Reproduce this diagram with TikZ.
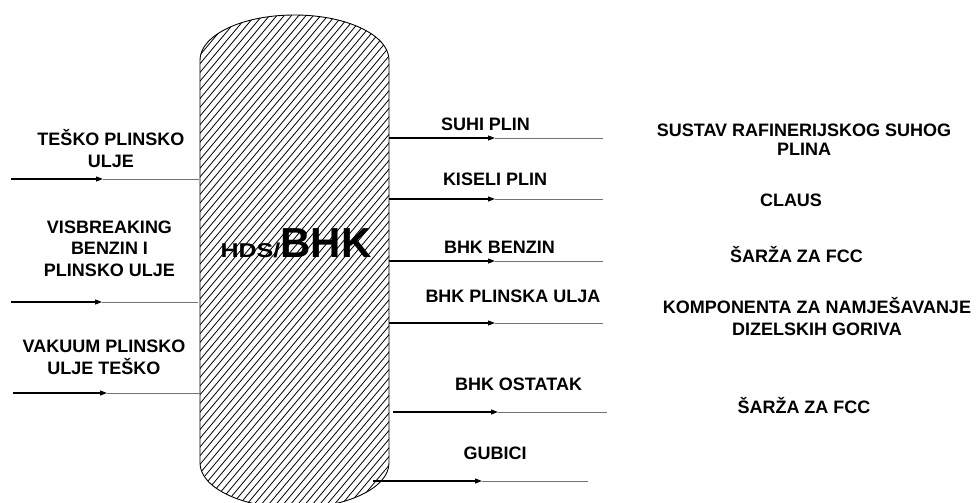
\documentclass[tikz,border=0pt]{standalone}
\usepackage{fontspec}
\setmainfont{Liberation Sans}
\usetikzlibrary{arrows.meta}
\begin{document}
\begin{tikzpicture}[x=1pt,y=-1pt,
  lbl/.style={font=\bfseries\fontsize{18}{21.5}\selectfont, align=center, anchor=base, inner sep=0pt},
  feed/.style={line width=1.1pt, black, -{Triangle[length=7pt,width=5pt]}},
  tail/.style={line width=0.9pt, black!55},
  hatch/.style={line width=0.8pt, black},
  outline/.style={line width=0.9pt, black},
  ]
\useasboundingbox (0,0) rectangle (980,503);
% vessel
\def\vesselpath{(200,463) -- (200,60) arc[start angle=180, end angle=360, x radius=94.5, y radius=45] -- (389,463) arc[start angle=0, end angle=180, x radius=94.5, y radius=45] -- cycle}
\begin{scope}
  \clip \vesselpath;
  \foreach \i in {0,...,92} {
    \draw[hatch] ({-245+7.3*\i},525) -- ++(440,-525);
  }
\end{scope}
\draw[outline] \vesselpath;
\node[inner sep=0pt, anchor=base, font=\bfseries] (bhk) at (296,257)
  {{\fontsize{20}{20}\selectfont\scalebox{1.25}[1]{HDS/}}{\fontsize{42}{42}\selectfont BHK}};

% coordinates
\coordinate (in1s) at (11,179);  \coordinate (in1m) at (103,179); \coordinate (in1e) at (199,179);
\coordinate (in2s) at (11,302);  \coordinate (in2m) at (102,302); \coordinate (in2e) at (198,302);
\coordinate (in3s) at (13,393);  \coordinate (in3m) at (107,393); \coordinate (in3e) at (200,393);
\coordinate (o1s) at (389,138); \coordinate (o1m) at (495,138); \coordinate (o1e) at (603,138);
\coordinate (o2s) at (389,199); \coordinate (o2m) at (495,199); \coordinate (o2e) at (603,199);
\coordinate (o3s) at (389,261); \coordinate (o3m) at (495,261); \coordinate (o3e) at (603,261);
\coordinate (o4s) at (389,323); \coordinate (o4m) at (495,323); \coordinate (o4e) at (603,323);
\coordinate (o5s) at (393,412); \coordinate (o5m) at (498,412); \coordinate (o5e) at (607,412);
\coordinate (o6s) at (373,481); \coordinate (o6m) at (482,481); \coordinate (o6e) at (588,481);

\foreach \n in {in1,in2,in3,o1,o2,o3,o4,o5,o6} {
  \draw[tail] (\n m) -- (\n e);
  \draw[feed] (\n s) -- (\n m);
}

% left labels (base = last line)
\node[lbl] (l1) at (111,167) {TEŠKO PLINSKO\\ULJE};
\node[lbl] (l2) at (109.5,276) {VISBREAKING\\BENZIN I\\PLINSKO ULJE};
\node[lbl] (l3) at (104,374) {VAKUUM PLINSKO\\ULJE TEŠKO};
% stream labels
\node[lbl] (s1) at (485.5,130) {SUHI PLIN};
\node[lbl] (s2) at (495,185) {KISELI PLIN};
\node[lbl] (s3) at (499.5,253) {BHK BENZIN};
\node[lbl] (s4) at (513,302) {BHK PLINSKA ULJA};
\node[lbl] (s5) at (518.5,390) {BHK OSTATAK};
\node[lbl] (s6) at (495,459) {GUBICI};
% destinations
\node[lbl, font=\bfseries\fontsize{18}{19}\selectfont] (d1) at (804,155) {SUSTAV RAFINERIJSKOG SUHOG\\PLINA};
\node[lbl] (d2) at (791,206) {CLAUS};
\node[lbl] (d3) at (796.5,262) {ŠARŽA ZA FCC};
\node[lbl] (d4) at (817,335) {KOMPONENTA ZA NAMJEŠAVANJE\\DIZELSKIH GORIVA};
\node[lbl] (d5) at (804,413) {ŠARŽA ZA FCC};
\end{tikzpicture}
\end{document}
